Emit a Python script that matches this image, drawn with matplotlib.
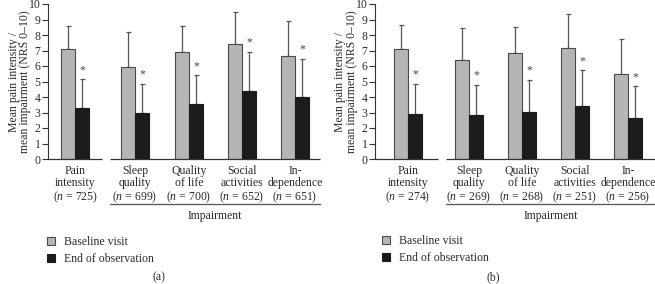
import matplotlib
matplotlib.use("Agg")
import matplotlib.pyplot as plt
from matplotlib.patches import Patch
from matplotlib.transforms import offset_copy

plt.rcParams['font.family'] = ['Liberation Serif', 'DejaVu Serif']
plt.rcParams['mathtext.fontset'] = 'custom'
plt.rcParams['mathtext.rm'] = 'Liberation Serif'
plt.rcParams['mathtext.it'] = 'Liberation Serif:italic'

# ---- data ----
categories = ["Pain\nintensity", "Sleep\nquality", "Quality\nof life", "Social\nactivities", "In-\ndependence"]
n_a = [725, 699, 700, 652, 651]
n_b = [274, 269, 268, 251, 256]

baseline_a = [7.08, 5.94, 6.89, 7.42, 6.63]
baseline_sd_a = [1.50, 2.24, 1.67, 2.04, 2.28]
end_a = [3.30, 3.00, 3.52, 4.40, 3.99]
end_sd_a = [1.85, 1.87, 1.89, 2.53, 2.47]

baseline_b = [7.10, 6.39, 6.85, 7.15, 5.47]
baseline_sd_b = [1.55, 2.04, 1.69, 2.21, 2.28]
end_b = [2.90, 2.81, 3.05, 3.39, 2.64]
end_sd_b = [1.97, 1.98, 2.06, 2.32, 2.04]

series_labels = ["Baseline visit", "End of observation"]
yticks = list(range(0, 11))
panel_labels = ["(a)", "(b)"]

# ---- layout ----
W, H = 655, 284
fig = plt.figure(figsize=(W / 100, H / 100), dpi=100)

GRAY = "#b5b5b5"
EDGE = "#4a4a4a"
BLACK = "#1c1c1c"
TXT = "#2b2b2b"
FS = 8.5

panels = [
    dict(rect=(48, 320), centers=[0, 1.121, 2.131, 3.121, 4.112], xlim=(-0.505, 4.579),
         gap=(0.505, 0.654), width=0.262, base=baseline_a, bsd=baseline_sd_a,
         end=end_a, esd=end_sd_a, n=n_a, leg=(47, 236), lab=(159, 277), ylx=-0.062),
    dict(rect=(375, 655), centers=[0, 1.151, 2.151, 3.151, 4.151], xlim=(-0.623, 4.66),
         gap=(0.566, 0.717), width=0.264, base=baseline_b, bsd=baseline_sd_b,
         end=end_b, esd=end_sd_b, n=n_b, leg=(382, 235), lab=(493, 277), ylx=-0.061),
]

top_px, bot_px = 4, 159
for i, p in enumerate(panels):
    l, r = p["rect"]
    ax = fig.add_axes([l / W, 1 - bot_px / H, (r - l) / W, (bot_px - top_px) / H])
    c = p["centers"]
    w = p["width"]
    xg = [x - w / 2 for x in c]
    xe = [x + w / 2 for x in c]
    ax.bar(xg, p["base"], width=w, color=GRAY, edgecolor=EDGE, linewidth=0.8, zorder=2)
    ax.bar(xe, p["end"], width=w, color=BLACK, edgecolor=BLACK, linewidth=0.8, zorder=2)
    ax.errorbar(xg, p["base"], yerr=[[0] * 5, p["bsd"]], fmt="none", ecolor="#555555",
                elinewidth=0.9, capsize=1.8, capthick=0.9, zorder=1)
    ax.errorbar(xe, p["end"], yerr=[[0] * 5, p["esd"]], fmt="none", ecolor="#555555",
                elinewidth=0.9, capsize=1.8, capthick=0.9, zorder=1)
    for x, v, s in zip(xe, p["end"], p["esd"]):
        ax.text(x, v + s + 0.2, "*", ha="center", va="bottom", fontsize=FS, color="#444444")

    ax.set_xlim(*p["xlim"])
    ax.set_ylim(0, 10)
    ax.set_yticks(yticks)
    ax.set_yticklabels([str(t) for t in yticks])
    ax.tick_params(axis="y", direction="out", length=4, width=0.8, pad=1.5,
                   labelsize=FS, colors="#333333", labelcolor=TXT)
    labels = [f"{cat}\n($\\mathit{{n}}$ = {nn})" for cat, nn in zip(categories, p["n"])]
    ax.set_xticks(c)
    ax.set_xticklabels(labels, fontsize=FS, color=TXT, linespacing=1.02)
    ax.tick_params(axis="x", length=0, pad=4.5)

    for side in ("top", "right", "bottom"):
        ax.spines[side].set_visible(False)
    ax.spines["left"].set_color("#333333")
    ax.spines["left"].set_linewidth(0.8)

    x0, x1 = p["xlim"]
    g0, g1 = p["gap"]
    ax.hlines(0, x0, g0, color="#333333", linewidth=0.9, clip_on=False)
    ax.hlines(0, g1, x1, color="#333333", linewidth=0.9, clip_on=False)

    ax.set_ylabel("Mean pain intensity /\nmean impairment (NRS 0\u201310)", fontsize=FS,
                  color=TXT, linespacing=0.95)
    ax.yaxis.set_label_coords(p["ylx"], 0.5)

    # bracket for impairment group
    trans = offset_copy(ax.transData, fig=fig, x=0, y=-45, units="dots")
    ax.plot([g1, x1], [0, 0], color="#555555", linewidth=0.9, transform=trans, clip_on=False)
    trans2 = offset_copy(ax.transData, fig=fig, x=0, y=-57, units="dots")
    ax.text((g1 + x1) / 2, 0, "Impairment", transform=trans2, ha="center", va="center",
            fontsize=FS, color=TXT)

    handles = [Patch(facecolor=GRAY, edgecolor=EDGE, linewidth=0.8),
               Patch(facecolor=BLACK, edgecolor=BLACK, linewidth=0.8)]
    lx, ly = p["leg"]
    fig.legend(handles, series_labels, loc="upper left", bbox_to_anchor=(lx / W, 1 - ly / H),
               frameon=False, fontsize=FS, handlelength=0.7, handleheight=0.7,
               handletextpad=0.7, labelspacing=0.45, borderaxespad=0, borderpad=0,
               labelcolor=TXT)
    fig.text(p["lab"][0] / W, 1 - p["lab"][1] / H, panel_labels[i],
             ha="center", va="center", fontsize=FS, color=TXT)

fig.savefig("out.png", dpi=100)
